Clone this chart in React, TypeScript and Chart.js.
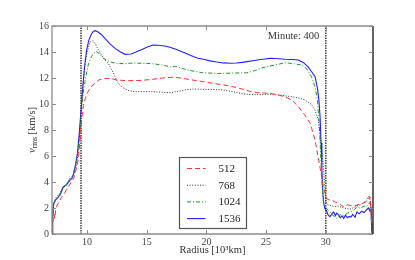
import React, { useEffect, useRef } from "react";
import { Chart, registerables } from "chart.js";
Chart.register(...registerables);

// ---- data ----
const xTickValues = [10, 15, 20, 25, 30];
const yTickMin = 0;
const yTickMax = 16;
const yTickStep = 2;
const xMin = 7.07;
const xMax = 33.95;
const boundaryRadii = [9.5, 30];
const annotationText = "Minute: 400";
const xTitle = "Radius [10³km]";
const seriesLabels = ["512", "768", "1024", "1536"];

const radius512 = [7.07, 7.15, 7.2, 7.3, 7.4, 7.55, 7.85, 8.1, 8.4, 8.7, 8.9, 9.1, 9.27, 9.4, 9.55, 9.7, 9.85, 10.0, 10.3, 10.67, 11.0, 11.5, 12.0, 12.5, 13.2, 14.0, 14.6, 15.5, 16.3, 17.0, 17.4, 18.5, 19.7, 20.5, 21.2, 22.0, 23.0, 23.65, 24.3, 25.3, 26.0, 26.6, 27.15, 27.7, 28.2, 28.7, 29.1, 29.5, 29.8, 30.07, 30.35, 30.5, 30.8, 31.0, 31.3, 31.5, 31.8, 32.0, 32.4, 32.8, 33.1, 33.4, 33.7, 33.85];
const vrms512 = [0.3, 0.8, 1.85, 1.2, 2.0, 2.3, 2.8, 3.1, 3.6, 4.0, 4.3, 5.0, 5.7, 7.0, 8.77, 9.9, 10.4, 10.8, 11.3, 11.6, 11.85, 11.97, 11.95, 11.85, 11.8, 11.8, 11.82, 11.9, 12.0, 12.05, 12.05, 11.9, 11.72, 11.6, 11.5, 11.38, 11.15, 10.97, 10.87, 10.82, 10.7, 10.55, 10.3, 9.8, 9.2, 8.5, 7.2, 5.2, 3.6, 2.7, 2.6, 2.6, 2.45, 2.4, 2.2, 2.1, 2.25, 2.2, 2.15, 2.3, 2.36, 2.5, 2.87, 0.56];

const radius768 = [7.07, 7.15, 7.25, 7.4, 7.7, 8.0, 8.3, 8.6, 8.9, 9.1, 9.3, 9.45, 9.6, 9.8, 10.0, 10.25, 10.5, 10.7, 11.0, 11.4, 11.8, 12.2, 12.6, 13.0, 13.5, 14.0, 14.6, 15.5, 16.3, 16.95, 17.5, 18.3, 19.0, 19.7, 20.5, 21.4, 22.2, 23.1, 24.0, 25.3, 26.2, 27.15, 27.8, 28.26, 28.8, 29.1, 29.37, 29.6, 29.8, 29.92, 30.0, 30.1, 30.35, 30.7, 31.0, 31.5, 32.0, 32.5, 33.0, 33.4, 33.6, 33.7, 33.8, 33.88];
const vrms768 = [0.2, 1.5, 2.5, 2.8, 3.1, 3.6, 3.9, 4.3, 4.6, 5.2, 6.5, 8.5, 10.8, 12.8, 14.0, 14.75, 14.87, 14.6, 14.1, 13.5, 13.1, 12.4, 11.6, 11.25, 11.03, 10.95, 10.95, 10.95, 10.9, 10.87, 10.95, 11.1, 11.15, 11.13, 11.12, 11.08, 10.95, 10.77, 10.72, 10.75, 10.68, 10.56, 10.45, 10.3, 9.95, 9.5, 8.77, 7.0, 5.2, 3.5, 2.5, 2.3, 2.2, 2.1, 2.15, 2.0, 1.9, 2.1, 2.3, 2.6, 2.9, 2.6, 2.0, 0.3];

const radius1024 = [7.07, 7.1, 7.2, 7.4, 7.7, 8.0, 8.3, 8.6, 8.8, 9.0, 9.2, 9.35, 9.5, 9.7, 9.9, 10.1, 10.3, 10.5, 10.75, 11.0, 11.4, 11.9, 12.5, 13.2, 13.8, 14.6, 15.5, 16.3, 17.0, 17.4, 18.5, 19.7, 21.0, 22.3, 23.4, 24.0, 24.5, 25.3, 26.0, 26.6, 27.3, 28.0, 28.4, 28.8, 29.1, 29.3, 29.45, 29.55, 29.65, 29.75, 29.85, 30.0, 30.2, 30.5, 30.9, 31.2, 31.5, 31.8, 32.1, 32.4, 32.6, 32.9, 33.2, 33.4, 33.6, 33.75, 33.85];
const vrms1024 = [0.3, 1.0, 2.2, 2.7, 3.0, 3.5, 3.9, 4.2, 4.4, 5.2, 6.0, 7.3, 9.2, 11.0, 12.1, 13.0, 13.5, 13.85, 14.05, 13.9, 13.5, 13.25, 13.12, 13.1, 13.15, 13.13, 13.1, 13.0, 12.85, 12.9, 12.6, 12.4, 12.35, 12.38, 12.4, 12.55, 12.74, 12.92, 13.05, 13.18, 13.1, 13.0, 12.7, 12.1, 11.3, 10.3, 8.5, 6.5, 4.5, 3.0, 2.3, 2.0, 1.85, 1.5, 1.2, 1.5, 1.4, 1.6, 1.7, 1.9, 2.05, 2.0, 2.15, 2.1, 2.3, 2.5, 0.5];

const radius1536 = [7.07, 7.13, 7.22, 7.35, 7.55, 7.75, 8.0, 8.3, 8.55, 8.75, 8.9, 9.05, 9.2, 9.35, 9.5, 9.65, 9.8, 9.97, 10.15, 10.35, 10.5, 10.67, 10.9, 11.2, 11.5, 11.9, 12.35, 12.8, 13.2, 13.7, 14.1, 14.6, 15.1, 15.55, 16.0, 16.5, 16.95, 17.5, 18.0, 18.4, 18.9, 19.3, 19.75, 20.3, 20.85, 21.4, 22.0, 22.5, 23.0, 23.4, 23.9, 24.4, 24.9, 25.3, 25.8, 26.6, 27.2, 27.7, 28.1, 28.5, 28.8, 29.1, 29.3, 29.42, 29.52, 29.6, 29.67, 29.73, 29.8, 29.9, 30.05, 30.2, 30.35, 30.5, 30.65, 30.8, 30.9, 31.05, 31.2, 31.35, 31.5, 31.65, 31.8, 31.95, 32.1, 32.25, 32.45, 32.6, 32.8, 33.0, 33.2, 33.4, 33.56, 33.7, 33.78, 33.85];
const vrms1536 = [0.0, 1.85, 2.35, 2.6, 2.8, 3.0, 3.6, 3.8, 4.1, 4.3, 4.7, 5.4, 6.2, 7.7, 9.5, 11.3, 12.9, 14.15, 14.9, 15.35, 15.55, 15.64, 15.55, 15.35, 15.05, 14.65, 14.28, 14.0, 13.82, 13.85, 14.0, 14.2, 14.4, 14.54, 14.52, 14.46, 14.36, 14.2, 14.0, 13.85, 13.65, 13.52, 13.44, 13.32, 13.23, 13.16, 13.13, 13.15, 13.2, 13.26, 13.33, 13.4, 13.46, 13.51, 13.5, 13.44, 13.42, 13.38, 13.2, 12.87, 12.5, 12.1, 11.2, 10.3, 9.0, 7.0, 5.0, 3.5, 2.5, 2.0, 1.8, 1.45, 1.33, 1.55, 1.7, 1.4, 1.6, 1.5, 1.25, 1.4, 1.2, 1.45, 1.25, 1.35, 1.3, 1.5, 1.3, 1.7, 1.55, 1.75, 1.65, 1.85, 2.0, 1.75, 2.1, 0.05];

const toPoints = (xs: number[], ys: number[]) => xs.map((x, i) => ({ x, y: ys[i] }));

const SERIF = "'Liberation Serif', 'DejaVu Serif', serif";

const framePlugin = {
  id: "frame",
  afterDatasetsDraw(chart: any) {
    const { ctx, chartArea: a, scales } = chart;
    const xs = scales.x, ys = scales.y;
    ctx.save();
    // spines
    ctx.lineWidth = 1.3;
    ctx.strokeStyle = "#8c8c8c";
    ctx.beginPath();
    ctx.moveTo(a.left, a.bottom); ctx.lineTo(a.left, a.top); ctx.lineTo(a.right, a.top);
    ctx.moveTo(a.left, a.bottom); ctx.lineTo(a.right, a.bottom);
    ctx.stroke();
    ctx.strokeStyle = "#111";
    ctx.beginPath();
    ctx.moveTo(a.right, a.top); ctx.lineTo(a.right, a.bottom);
    ctx.stroke();
    // inward ticks
    ctx.lineWidth = 1;
    ctx.strokeStyle = "#8c8c8c";
    const tl = 4;
    ctx.beginPath();
    xTickValues.forEach((v) => {
      const px = Math.round(xs.getPixelForValue(v)) + 0.5;
      ctx.moveTo(px, a.bottom); ctx.lineTo(px, a.bottom - tl);
      ctx.moveTo(px, a.top); ctx.lineTo(px, a.top + tl);
    });
    for (let v = yTickMin; v <= yTickMax; v += yTickStep) {
      const py = Math.round(ys.getPixelForValue(v)) + 0.5;
      ctx.moveTo(a.left, py); ctx.lineTo(a.left + tl, py);
      ctx.moveTo(a.right, py); ctx.lineTo(a.right - tl, py);
    }
    ctx.stroke();

    // annotation
    ctx.fillStyle = "#333";
    ctx.font = `10.5px ${SERIF}`;
    ctx.textAlign = "right";
    ctx.textBaseline = "middle";
    ctx.fillText(annotationText, xs.getPixelForValue(29.45), a.top + 10);

    // x title
    ctx.textAlign = "center";
    ctx.font = `10.5px ${SERIF}`;
    ctx.fillText(xTitle, (a.left + a.right) / 2, a.bottom + 16.5);

    // y title with subscript
    ctx.save();
    ctx.translate(31, (a.top + a.bottom) / 2);
    ctx.rotate(-Math.PI / 2);
    const fMain = `10.5px ${SERIF}`;
    const fIt = `italic 10.5px ${SERIF}`;
    const fSub = `7.5px ${SERIF}`;
    ctx.font = fIt; const wV = ctx.measureText("v").width;
    ctx.font = fSub; const wS = ctx.measureText("rms").width;
    ctx.font = fMain; const wR = ctx.measureText(" [km/s]").width;
    let cx = -(wV + wS + wR) / 2;
    ctx.textAlign = "left";
    ctx.textBaseline = "alphabetic";
    ctx.font = fIt; ctx.fillText("v", cx, 3.5); cx += wV;
    ctx.font = fSub; ctx.fillText("rms", cx, 5.5); cx += wS;
    ctx.font = fMain; ctx.fillText(" [km/s]", cx, 3.5);
    ctx.restore();

    // legend box (lower center)
    const entries = chart.data.datasets.filter((d: any) => seriesLabels.includes(d.label));
    const bw = 67, rowH = 16.7, bh = 71;
    const bx = Math.round((a.left + a.right) / 2 - bw / 2) + 0.5;
    const by = Math.round(a.bottom - 6 - bh) + 0.5;
    ctx.fillStyle = "#fff";
    ctx.fillRect(bx, by, bw, bh);
    ctx.strokeStyle = "#555";
    ctx.lineWidth = 1.2;
    ctx.strokeRect(bx, by, bw, bh);
    ctx.font = `11px ${SERIF}`;
    ctx.textAlign = "left";
    ctx.textBaseline = "middle";
    entries.forEach((d: any, i: number) => {
      const y = by + 11 + i * rowH;
      ctx.save();
      ctx.strokeStyle = d.borderColor;
      ctx.lineWidth = d.borderWidth;
      ctx.setLineDash(d.borderDash || []);
      ctx.beginPath();
      ctx.moveTo(bx + 7.5, y); ctx.lineTo(bx + 26, y);
      ctx.stroke();
      ctx.restore();
      ctx.fillStyle = "#222";
      ctx.fillText(d.label, bx + 39, y + 0.5);
    });
    ctx.restore();
  },
};

export default function App() {
  const ref = useRef<HTMLCanvasElement | null>(null);
  useEffect(() => {
    if (!ref.current) return;
    const common = { pointRadius: 0, pointHoverRadius: 0, fill: false, tension: 0 };
    const boundaries = boundaryRadii.map((r, i) => ({
      label: "boundary" + i,
      data: [{ x: r, y: yTickMin }, { x: r, y: yTickMax }],
      borderColor: "#222",
      borderWidth: 1.3,
      borderDash: [1.5, 1],
      ...common,
    }));
    const chart = new Chart(ref.current, {
      type: "line",
      data: {
        datasets: [
          { label: seriesLabels[0], data: toPoints(radius512, vrms512), borderColor: "#ff3030", borderWidth: 1.0, borderDash: [5, 3], ...common },
          { label: seriesLabels[1], data: toPoints(radius768, vrms768), borderColor: "#333333", borderWidth: 1.0, borderDash: [1, 1.6], ...common },
          { label: seriesLabels[2], data: toPoints(radius1024, vrms1024), borderColor: "#1a961f", borderWidth: 1.0, borderDash: [4, 2, 1, 2], ...common },
          { label: seriesLabels[3], data: toPoints(radius1536, vrms1536), borderColor: "#2020ff", borderWidth: 1.1, ...common },
          ...boundaries,
        ] as any,
      },
      options: {
        animation: false,
        responsive: true,
        maintainAspectRatio: false,
        layout: { padding: { left: 0, top: 26, right: 42, bottom: 0 } },
        plugins: { legend: { display: false }, tooltip: { enabled: false } },
        scales: {
          x: {
            type: "linear",
            min: xMin,
            max: xMax,
            grid: { display: false, drawTicks: false },
            border: { display: false },
            afterBuildTicks: (s: any) => { s.ticks = xTickValues.map((v) => ({ value: v })); },
            afterFit: (s: any) => { s.height = 26; },
            ticks: { color: "#444", font: { family: SERIF, size: 10 }, padding: 2, maxRotation: 0 },
          },
          y: {
            min: yTickMin,
            max: yTickMax,
            grid: { display: false, drawTicks: false },
            border: { display: false },
            afterFit: (s: any) => { s.width = 52; },
            ticks: { stepSize: yTickStep, color: "#444", font: { family: SERIF, size: 10 }, padding: 3 },
          },
        },
      } as any,
      plugins: [framePlugin],
    });
    return () => chart.destroy();
  }, []);
  return (
    <div style={{ position: "fixed", left: 0, top: 0, width: 415, height: 260, background: "#fff" }}>
      <canvas ref={ref} />
    </div>
  );
}
